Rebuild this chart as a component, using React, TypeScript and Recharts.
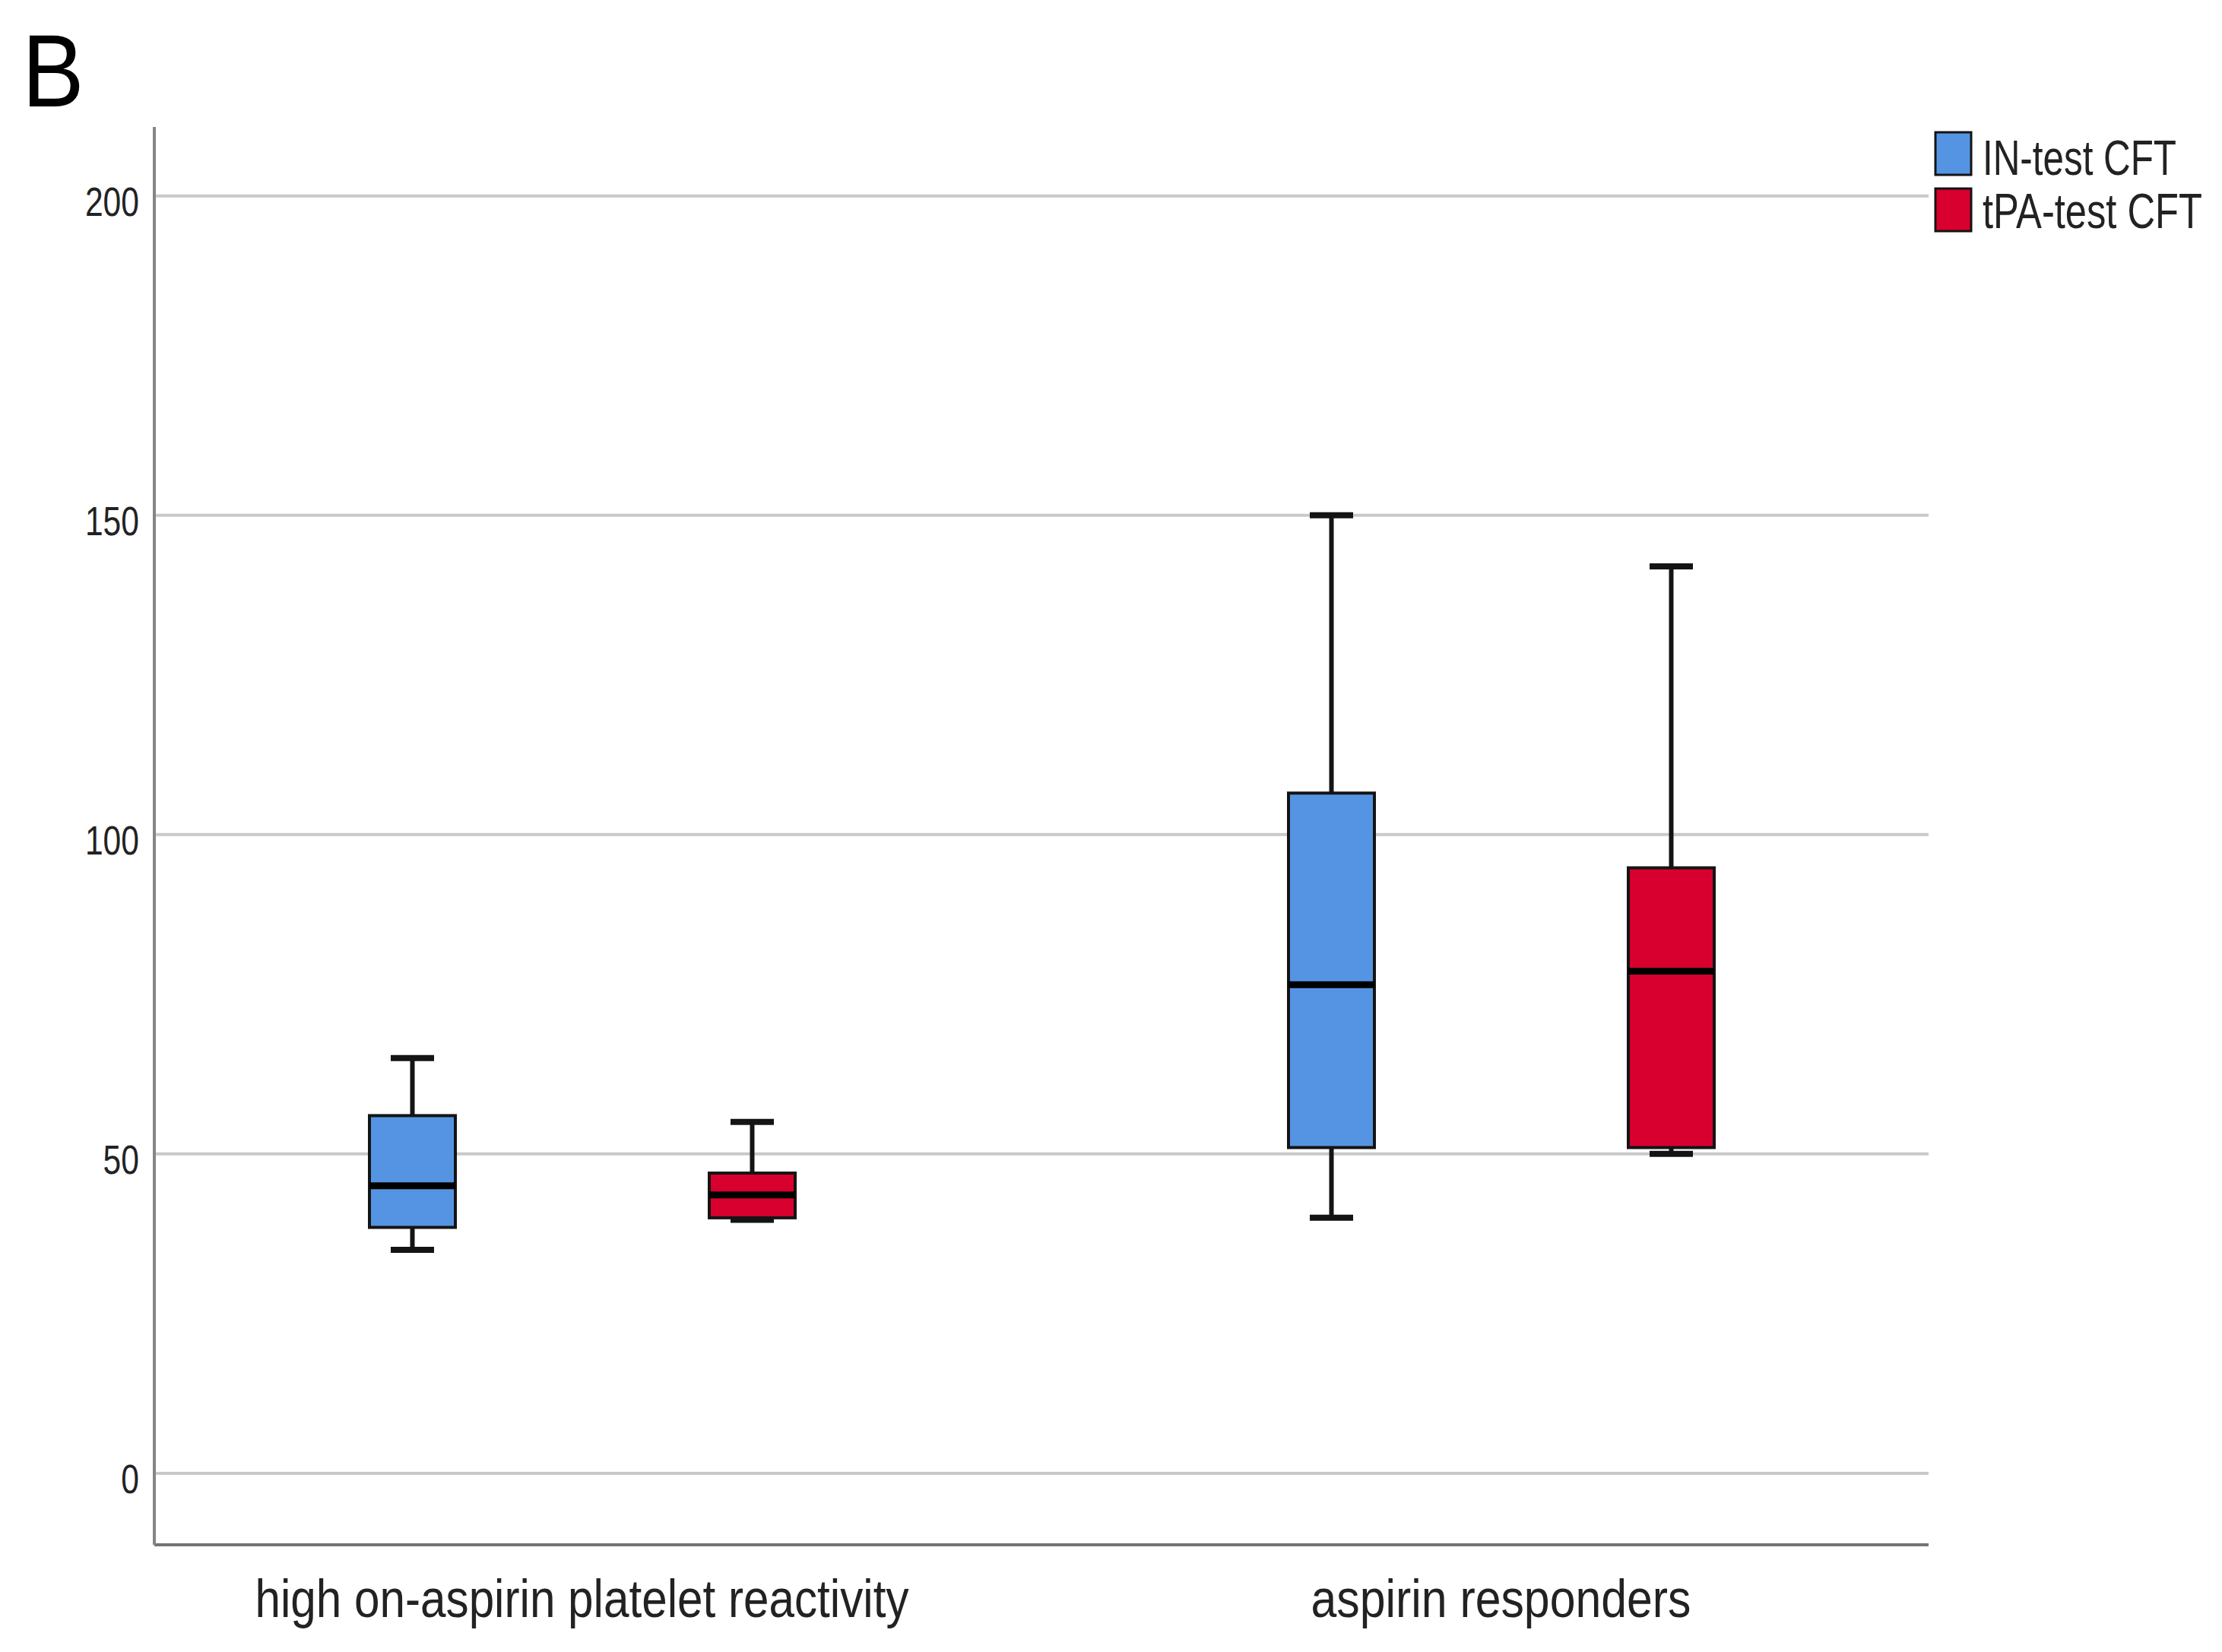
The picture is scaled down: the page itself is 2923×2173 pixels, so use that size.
import React from "react";
import { ComposedChart, Bar, XAxis, YAxis, CartesianGrid } from "recharts";

// ---- data ----
const categories = ["high on-aspirin platelet reactivity", "aspirin responders"];
const seriesNames = ["IN-test CFT", "tPA-test CFT"];
const yTicks = [0, 50, 100, 150, 200];

const inMin = [35, 40];
const inQ1 = [38.5, 51];
const inMedian = [45, 76.5];
const inQ3 = [56, 106.5];
const inMax = [65, 150];

const tpaMin = [39.7, 50];
const tpaQ1 = [40, 51];
const tpaMedian = [43.6, 78.6];
const tpaQ3 = [47, 94.8];
const tpaMax = [55, 142];

// ---- styles ----
const W = 2907;
const H = 2157;
const BLUE = "#5594E2";
const RED = "#D8002E";
const INK = "#141414";
const FONT = "'Liberation Sans Narrow', 'Liberation Sans', Arial, sans-serif";
const xLabelLengths = [860, 500];
const legendLengths = [255, 289];
const SQ = 0.78;

const table = categories.map((cat, i) => ({
  cat,
  in_base: inMin[i],
  in_lw: inQ1[i] - inMin[i],
  in_bl: inMedian[i] - inQ1[i],
  in_bu: inQ3[i] - inMedian[i],
  in_uw: inMax[i] - inQ3[i],
  tpa_base: tpaMin[i],
  tpa_lw: tpaQ1[i] - tpaMin[i],
  tpa_bl: tpaMedian[i] - tpaQ1[i],
  tpa_bu: tpaQ3[i] - tpaMedian[i],
  tpa_uw: tpaMax[i] - tpaQ3[i],
}));

const CAP = 57;

const EmptyShape = () => <g />;

const LowerWhisker = (props: any) => {
  const { x, y, width, height } = props;
  const cx = x + width / 2;
  const yb = y + height;
  return (
    <g>
      <line x1={cx} x2={cx} y1={y} y2={yb} stroke={INK} strokeWidth={6} />
      <line x1={cx - CAP / 2} x2={cx + CAP / 2} y1={yb} y2={yb} stroke={INK} strokeWidth={8} />
    </g>
  );
};

const UpperWhisker = (props: any) => {
  const { x, y, width, height } = props;
  const cx = x + width / 2;
  return (
    <g>
      <line x1={cx} x2={cx} y1={y} y2={y + height} stroke={INK} strokeWidth={6} />
      <line x1={cx - CAP / 2} x2={cx + CAP / 2} y1={y} y2={y} stroke={INK} strokeWidth={8} />
    </g>
  );
};

const makeLowerBox = (color: string) => (props: any) => {
  const { x, y, width, height } = props;
  return <rect x={x} y={y} width={width} height={height} fill={color} stroke={INK} strokeWidth={4} />;
};

const makeUpperBox = (color: string) => (props: any) => {
  const { x, y, width, height } = props;
  const yb = y + height;
  return (
    <g>
      <rect x={x} y={y} width={width} height={height} fill={color} stroke={INK} strokeWidth={4} />
      <line x1={x} x2={x + width} y1={yb} y2={yb} stroke="#000" strokeWidth={9} />
    </g>
  );
};

const YTick = (props: any) => {
  const { x, y, payload } = props;
  const s = String(payload.value);
  return (
    <text
      x={x - 20}
      y={y + 26}
      textAnchor="end"
      fontFamily={FONT}
      fontSize={53}
      fill="#222"
      textLength={s.length * 23.7}
      lengthAdjust="spacingAndGlyphs"
    >
      {s}
    </text>
  );
};

const XTick = (props: any) => {
  const { x, y, payload, index } = props;
  const idx = typeof index === "number" ? index : categories.indexOf(payload.value);
  return (
    <text
      x={x}
      y={y + 95}
      textAnchor="middle"
      fontFamily={FONT}
      fontSize={70}
      fill="#222"
      textLength={xLabelLengths[idx] || undefined}
      lengthAdjust="spacingAndGlyphs"
    >
      {payload.value}
    </text>
  );
};

export default function App() {
  return (
    <div style={{ position: "relative", width: W, height: H, background: "#fff" }}>
      <ComposedChart
        width={W}
        height={H}
        data={table}
        margin={{ top: 159, right: 378, left: 0, bottom: 0 }}
        barSize={113}
        barGap={334}
      >
        <CartesianGrid vertical={false} horizontalValues={yTicks} stroke="#c9c9c9" strokeWidth={4} />
        <XAxis
          dataKey="cat"
          type="category"
          height={133}
          padding={{ left: -42, right: -42 }}
          axisLine={{ stroke: "#747474", strokeWidth: 4 }}
          tickLine={false}
          tickSize={0}
          tickMargin={0}
          interval={0}
          tick={<XTick />}
        />
        <YAxis
          type="number"
          width={195}
          domain={[-11.2, 210.8]}
          ticks={yTicks}
          allowDataOverflow
          axisLine={{ stroke: "#858585", strokeWidth: 4 }}
          tickLine={false}
          tickSize={0}
          tickMargin={0}
          tick={<YTick />}
        />
        <Bar dataKey="in_base" stackId="in" name={seriesNames[0]} fill="none" shape={EmptyShape} isAnimationActive={false} />
        <Bar dataKey="in_lw" stackId="in" fill={BLUE} shape={LowerWhisker} isAnimationActive={false} />
        <Bar dataKey="in_bl" stackId="in" fill={BLUE} shape={makeLowerBox(BLUE)} isAnimationActive={false} />
        <Bar dataKey="in_bu" stackId="in" fill={BLUE} shape={makeUpperBox(BLUE)} isAnimationActive={false} />
        <Bar dataKey="in_uw" stackId="in" fill={BLUE} shape={UpperWhisker} isAnimationActive={false} />
        <Bar dataKey="tpa_base" stackId="tpa" name={seriesNames[1]} fill="none" shape={EmptyShape} isAnimationActive={false} />
        <Bar dataKey="tpa_lw" stackId="tpa" fill={RED} shape={LowerWhisker} isAnimationActive={false} />
        <Bar dataKey="tpa_bl" stackId="tpa" fill={RED} shape={makeLowerBox(RED)} isAnimationActive={false} />
        <Bar dataKey="tpa_bu" stackId="tpa" fill={RED} shape={makeUpperBox(RED)} isAnimationActive={false} />
        <Bar dataKey="tpa_uw" stackId="tpa" fill={RED} shape={UpperWhisker} isAnimationActive={false} />
      </ComposedChart>
      <svg
        width={W}
        height={H}
        style={{ position: "absolute", left: 0, top: 0, pointerEvents: "none" }}
      >
        <text
          transform="translate(21,132) scale(0.9,1)"
          x={0}
          y={0}
          fontFamily="'Liberation Sans', Arial, sans-serif"
          fontSize={136}
          fill="#000"
        >
          B
        </text>
        {seriesNames.map((name, i) => (
          <g key={name}>
            <rect x={2538} y={166 + i * 74} width={47} height={56} fill={i === 0 ? BLUE : RED} stroke={INK} strokeWidth={3} />
            <text
              transform={`translate(2600,${222 + i * 70}) scale(${SQ},1)`}
              x={0}
              y={0}
              fontFamily="'Liberation Sans', Arial, sans-serif"
              fontSize={64}
              fill="#222"
              textLength={legendLengths[i] / SQ}
              lengthAdjust="spacingAndGlyphs"
            >
              {name}
            </text>
          </g>
        ))}
      </svg>
    </div>
  );
}
